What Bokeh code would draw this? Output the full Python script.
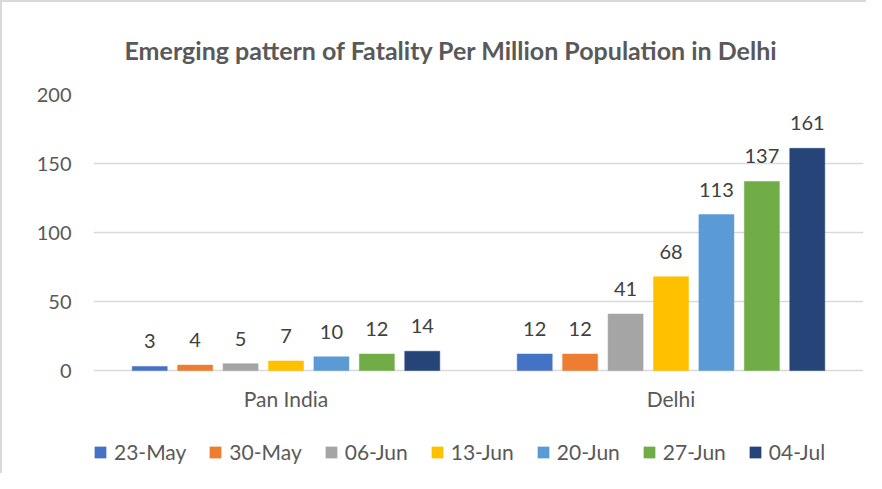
from bokeh.plotting import figure
from bokeh.models import (ColumnDataSource, FactorRange, LabelSet, Legend, LegendItem, Range1d)
from bokeh.core.properties import value
from bokeh.transform import dodge
from bokeh.embed import file_html
from bokeh.resources import INLINE

categories = ["Pan India", "Delhi"]
dates = ["23-May", "30-May", "06-Jun", "13-Jun", "20-Jun", "27-Jun", "04-Jul"]
pan_india = [3, 4, 5, 7, 10, 12, 14]
delhi = [12, 12, 41, 68, 113, 137, 161]
colors = ["#4472C4", "#ED7D31", "#A5A5A5", "#FFC000", "#5B9BD5", "#70AD47", "#264478"]
y_ticks = [0, 50, 100, 150, 200]

FONT = "Lato"
GRAY = "#595959"

p = figure(width=866, height=473, output_backend="svg", toolbar_location=None,
           x_range=FactorRange(factors=categories, range_padding=0),
           y_range=Range1d(-76, 200),
           min_border_left=91, min_border_right=5, min_border_top=89, min_border_bottom=0)
p.styles = {"border-left": "2px solid #d9d9d9", "border-top": "2px solid #d9d9d9"}

p.title.text = "Emerging pattern of Fatality Per Million Population in Delhi"
p.title.text_font = FONT
p.title.text_font_size = "25px"
p.title.text_font_style = "bold"
p.title.text_color = GRAY
p.title.align = "left"
p.title.offset = 31
p.title.standoff = 60

p.outline_line_color = None
p.xgrid.grid_line_color = None
p.ygrid.grid_line_color = "#d9d9d9"
p.ygrid.grid_line_width = 1.5
p.yaxis.ticker = y_ticks
p.yaxis.axis_line_color = None
p.yaxis.major_tick_line_color = None
p.yaxis.minor_tick_line_color = None
p.yaxis.major_label_standoff = 16
p.yaxis.major_label_text_font = FONT
p.yaxis.major_label_text_font_size = "20px"
p.yaxis.major_label_text_color = GRAY
p.xaxis.visible = False

# category labels under the zero line
cat_src = ColumnDataSource(dict(x=categories, y=[0, 0]))
p.add_layout(LabelSet(x="x", y="y", text="x", source=cat_src, y_offset=-28,
                      text_align="center", text_baseline="middle",
                      text_font=value(FONT), text_font_size=value("21px"),
                      text_color=GRAY))

pitch = 0.118
bar_w = 0.091
items = []
for i, d in enumerate(dates):
    off = (i - 3) * pitch
    vals = [pan_india[i], delhi[i]]
    src = ColumnDataSource(dict(x=categories, y=vals, lab=[str(v) for v in vals]))
    r = p.vbar(x=dodge("x", off, range=p.x_range), top="y", width=bar_w, source=src,
               fill_color=colors[i], line_color=colors[i], line_width=0.5)
    items.append(LegendItem(label=d, renderers=[r]))
    lbl = LabelSet(x=dodge("x", off, range=p.x_range), y="y", text="lab", source=src,
                   text_align="center", text_baseline="alphabetic", y_offset=18,
                   text_font=value(FONT), text_font_size=value("20px"),
                   text_color="#404040")
    p.add_layout(lbl)

legend = Legend(items=items, orientation="horizontal", location=(0, 11),
                padding=0, margin=0, spacing=22, label_standoff=7,
                glyph_width=14, glyph_height=14, border_line_color=None,
                background_fill_alpha=0,
                label_text_font=FONT, label_text_font_size="21px",
                label_text_color=GRAY)
p.add_layout(legend, "center")

open("out.html", "w").write(file_html(p, INLINE))
